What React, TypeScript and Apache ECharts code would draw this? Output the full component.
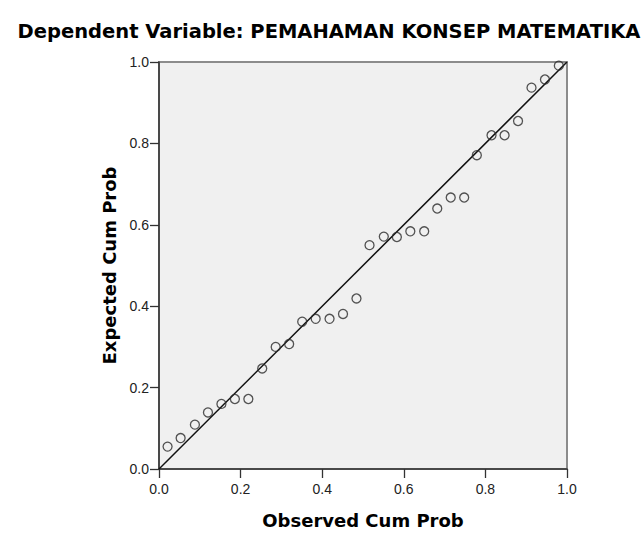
import React, { useEffect, useRef } from "react";
import * as echarts from "echarts";

const observedCumProb = [
  0.021, 0.053, 0.088, 0.12, 0.153, 0.186, 0.219, 0.253, 0.286, 0.319,
  0.351, 0.384, 0.418, 0.451, 0.484, 0.516, 0.551, 0.583, 0.616, 0.65,
  0.682, 0.715, 0.748, 0.779, 0.815, 0.847, 0.88, 0.913, 0.946, 0.98,
];
const expectedCumProb = [
  0.055, 0.076, 0.109, 0.139, 0.16, 0.172, 0.172, 0.247, 0.3, 0.307,
  0.362, 0.369, 0.369, 0.381, 0.419, 0.55, 0.571, 0.57, 0.584, 0.584,
  0.64, 0.667, 0.667, 0.771, 0.82, 0.82, 0.855, 0.937, 0.957, 0.991,
];
const diagonalX = [0, 1];
const diagonalY = [0, 1];

const titleText = "Dependent Variable: PEMAHAMAN KONSEP MATEMATIKA";
const xAxisTitle = "Observed Cum Prob";
const yAxisTitle = "Expected Cum Prob";

export default function App() {
  const ref = useRef<HTMLDivElement>(null);
  useEffect(() => {
    if (!ref.current) return;
    const chart = echarts.init(ref.current, undefined, { renderer: "svg" });
    const boldFont = "'DejaVu Sans', Verdana, sans-serif";
    const tickFont = "'Liberation Sans', Arial, sans-serif";
    chart.setOption({
      animation: false,
      backgroundColor: "#ffffff",
      title: {
        text: titleText,
        left: 324,
        textAlign: "center",
        top: 16,
        textStyle: { fontFamily: boldFont, fontSize: 19.5, fontWeight: "bold", color: "#000" },
      },
      grid: {
        left: 159,
        top: 62,
        width: 408,
        height: 409,
        show: true,
        backgroundColor: "#F0F0F0",
        borderColor: "#8c8c8c",
        borderWidth: 2,
      },
      xAxis: {
        type: "value",
        min: 0,
        max: 1,
        interval: 0.2,
        name: xAxisTitle,
        nameLocation: "middle",
        nameGap: 42,
        nameTextStyle: { fontFamily: boldFont, fontSize: 18, fontWeight: "bold", color: "#000", verticalAlign: "top" },
        axisLine: { show: true, onZero: false, lineStyle: { color: "#333", width: 1.5 } },
        axisTick: { show: true, inside: false, length: 9, lineStyle: { color: "#333", width: 1.3 } },
        axisLabel: { fontFamily: tickFont, fontSize: 14, color: "#222", margin: 13, formatter: (v: number) => v.toFixed(1) },
        splitLine: { show: false },
      },
      yAxis: {
        type: "value",
        min: 0,
        max: 1,
        interval: 0.2,
        name: yAxisTitle,
        nameLocation: "middle",
        nameGap: 40,
        nameRotate: 90,
        nameTextStyle: { fontFamily: boldFont, fontSize: 18, fontWeight: "bold", color: "#000" },
        axisLine: { show: true, onZero: false, lineStyle: { color: "#333", width: 1.5 } },
        axisTick: { show: true, inside: false, length: 9, lineStyle: { color: "#333", width: 1.3 } },
        axisLabel: { fontFamily: tickFont, fontSize: 14, color: "#222", margin: 10, formatter: (v: number) => v.toFixed(1) },
        splitLine: { show: false },
      },
      series: [
        {
          type: "line",
          data: diagonalX.map((x, i) => [x, diagonalY[i]]),
          showSymbol: false,
          symbol: "none",
          lineStyle: { color: "#111", width: 1.5 },
          silent: true,
          z: 2,
        },
        {
          type: "scatter",
          data: observedCumProb.map((x, i) => [x, expectedCumProb[i]]),
          symbol: "circle",
          symbolSize: 9,
          itemStyle: { color: "rgba(0,0,0,0)", borderColor: "#2a2a2a", borderWidth: 1.3 },
          z: 3,
        },
      ],
    });
    return () => chart.dispose();
  }, []);
  return (
    <div
      ref={ref}
      style={{ position: "fixed", left: 0, top: 0, width: 643, height: 534 }}
    />
  );
}
